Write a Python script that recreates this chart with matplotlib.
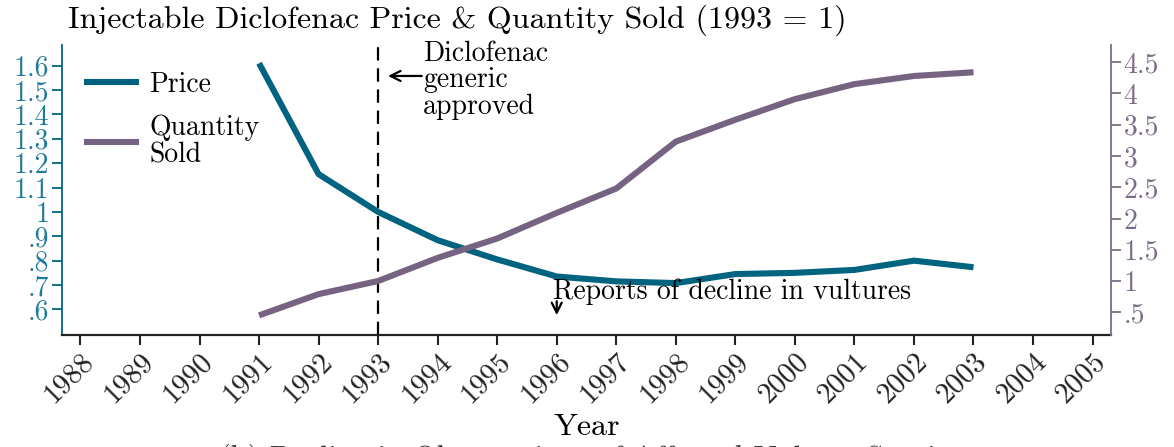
import matplotlib
matplotlib.use("Agg")
import matplotlib.pyplot as plt
from matplotlib.ticker import FuncFormatter, FixedLocator

plt.rcParams['font.family'] = ['cmr10', 'DejaVu Serif']
plt.rcParams['mathtext.fontset'] = 'cm'
plt.rcParams['axes.unicode_minus'] = False

years = list(range(1991, 2004))
price = [1.61, 1.155, 1.0, 0.884, 0.805, 0.735, 0.715, 0.708, 0.745, 0.75, 0.762, 0.80, 0.773]
quantity = [0.45, 0.79, 1.0, 1.37, 1.68, 2.09, 2.48, 3.23, 3.58, 3.91, 4.15, 4.28, 4.34]
xticks = list(range(1988, 2006))
left_ticks = [0.6, 0.7, 0.8, 0.9, 1.0, 1.1, 1.2, 1.3, 1.4, 1.5, 1.6]
right_ticks = [0.5, 1, 1.5, 2, 2.5, 3, 3.5, 4, 4.5]

c_price = '#00637f'
c_price_lbl = '#1f7a99'
c_qty = '#766382'
c_qty_lbl = '#7d6c88'

def stata_fmt(v, pos):
    s = ('%.1f' % v).rstrip('0').rstrip('.')
    if s.startswith('0.'):
        s = s[1:]
    return s

fig = plt.figure(figsize=(11.74, 4.47), dpi=100)
ax = fig.add_axes([62/1174, 1-334.5/447, (1111-62)/1174, (334.5-45)/447])
ax2 = ax.twinx()

lp, = ax.plot(years, price, color=c_price, lw=4.4, solid_capstyle='butt', label='Price', zorder=3)
lq, = ax2.plot(years, quantity, color=c_qty, lw=4.4, solid_capstyle='butt', label='Quantity\nSold', zorder=3)

ax.set_xlim(1987.69, 2005.31)
ax.set_ylim(0.497, 1.685)
ax2.set_ylim(0.144, 4.776)

ax.axvline(1993, color='black', lw=1.6, ls=(0, (6, 3.5)), zorder=2)

ax.set_xticks(xticks)
ax.set_xticklabels([str(y) for y in xticks], rotation=45, ha='right', rotation_mode='anchor', fontsize=21)
ax.yaxis.set_major_locator(FixedLocator(left_ticks))
ax.yaxis.set_major_formatter(FuncFormatter(stata_fmt))
ax2.yaxis.set_major_locator(FixedLocator(right_ticks))
ax2.yaxis.set_major_formatter(FuncFormatter(stata_fmt))

for a in (ax, ax2):
    a.spines['top'].set_visible(False)
ax.spines['right'].set_visible(False)
ax2.spines['left'].set_visible(False)
ax2.spines['bottom'].set_visible(False)
ax.spines['left'].set_color(c_price)
ax.spines['left'].set_linewidth(1.3)
ax.spines['bottom'].set_color('#222222')
ax.spines['bottom'].set_linewidth(1.6)
ax2.spines['right'].set_color(c_qty_lbl)
ax2.spines['right'].set_linewidth(1.3)

ax.tick_params(axis='x', direction='out', length=7, width=1.5, colors='#222222', labelsize=21, pad=3)
ax.tick_params(axis='y', direction='out', length=7, width=1.3, color=c_price, labelcolor=c_price_lbl, labelsize=20, pad=2)
ax2.tick_params(axis='y', direction='out', length=7, width=1.3, color=c_qty_lbl, labelcolor=c_qty_lbl, labelsize=20, pad=2)

ax.set_xlabel('Year', fontsize=23, labelpad=4)

leg = ax2.legend(handles=[lp, lq], loc='upper left', bbox_to_anchor=(-0.003, 0.995), frameon=False,
                 fontsize=20, handlelength=2.0, handletextpad=0.35, labelspacing=0.6)
for t in leg.get_texts():
    t.set_linespacing(1.08)

# annotations
ax.text(1993.75, 1.54, 'Diclofenac\ngeneric\napproved', fontsize=20, ha='left', va='center', linespacing=1.02)
ax.annotate('', xy=(1993.12, 1.558), xytext=(1993.78, 1.558),
            arrowprops=dict(arrowstyle='->', color='black', lw=1.6, mutation_scale=18))
ax.text(1995.93, 0.672, 'Reports of decline in vultures', fontsize=20, ha='left', va='center')
ax.annotate('', xy=(1996.0, 0.565), xytext=(1996.0, 0.645),
            arrowprops=dict(arrowstyle='->', color='black', lw=1.6, mutation_scale=18))

fig.text(68/1174, 1-20/447, 'Injectable Diclofenac Price & Quantity Sold (1993 = 1)', fontsize=23, ha='left', va='center')
fig.text(590/1174, -0.028, '(b) Decline in Observations of Affected Vulture Species', fontsize=22,
         ha='center', va='center', color='#333333')

fig.savefig('out.png', dpi=100)
